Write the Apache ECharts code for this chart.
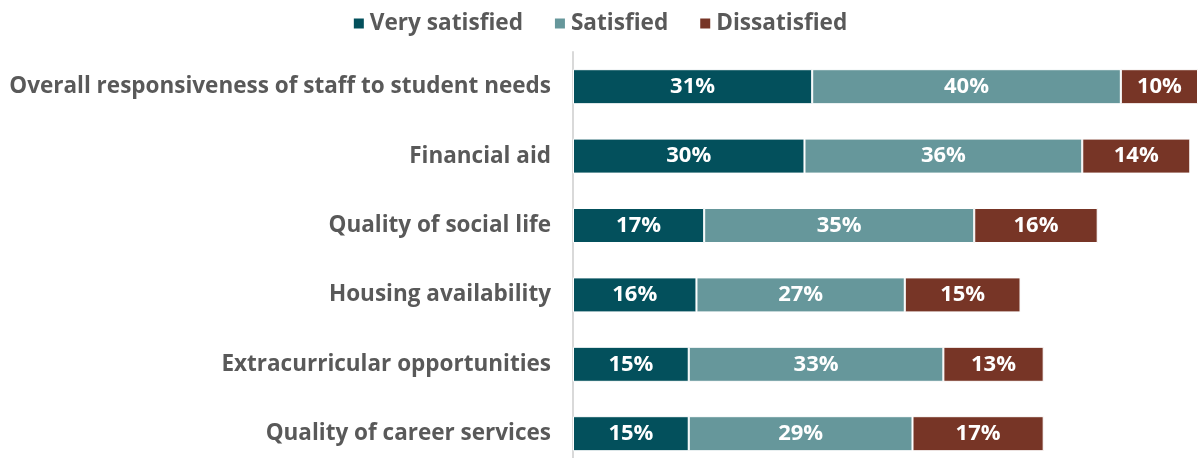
<!DOCTYPE html>
<html>
<head>
<meta charset="utf-8">
<script src="https://cdn.jsdelivr.net/npm/echarts@6/dist/echarts.min.js"></script>
<style>
  html, body { margin: 0; padding: 0; background: #fff; }
  #chart { width: 1199px; height: 458px; }
</style>
</head>
<body>
<div id="chart"></div>
<script>
// Survey items, listed top to bottom
const categories = [
  'Overall responsiveness of staff to student needs',
  'Financial aid',
  'Quality of social life',
  'Housing availability',
  'Extracurricular opportunities',
  'Quality of career services'
];
const seriesNames = ['Very satisfied', 'Satisfied', 'Dissatisfied'];
const verySatisfied = [31, 30, 17, 16, 15, 15];
const satisfied = [40, 36, 35, 27, 33, 29];
const dissatisfied = [10, 14, 16, 15, 13, 17];

const colors = ['#03505C', '#66979B', '#773526'];
const font = '"Open Sans", "DejaVu Sans", sans-serif';

const chart = echarts.init(document.getElementById('chart'), null, { renderer: 'canvas' });

const values = [verySatisfied, satisfied, dissatisfied];
const series = seriesNames.map((name, i) => ({
  name,
  type: 'bar',
  stack: 'total',
  barWidth: 35,
  clip: false,
  data: values[i].slice().reverse(),
  itemStyle: { color: colors[i], borderColor: '#ffffff', borderWidth: 1 },
  label: {
    show: true,
    position: 'inside',
    formatter: p => p.value + '%',
    color: '#ffffff',
    fontFamily: font,
    fontWeight: 'bold',
    fontSize: 22
  }
}));

chart.setOption({
  animation: false,
  color: colors,
  legend: {
    top: 7,
    left: 'center',
    itemWidth: 12,
    itemHeight: 12,
    itemGap: 30,
    icon: 'rect',
    data: seriesNames,
    textStyle: { color: '#595959', fontFamily: font, fontWeight: 'bold', fontSize: 22.6, padding: [0, 0, 0, 0] }
  },
  grid: { left: 573, top: 52, width: 625, height: 416.4, outerBoundsMode: 'none', containLabel: false },
  xAxis: {
    type: 'value',
    min: 0,
    max: 81,
    show: false
  },
  yAxis: {
    type: 'category',
    data: categories.slice().reverse(),
    offset: 2,
    axisLine: { show: true, lineStyle: { color: '#D9D9D9', width: 2 } },
    axisTick: { show: false },
    axisLabel: {
      margin: 20,
      color: '#595959',
      fontFamily: font,
      fontWeight: 'bold',
      fontSize: 22.5
    }
  },
  series
});
</script>
</body>
</html>
